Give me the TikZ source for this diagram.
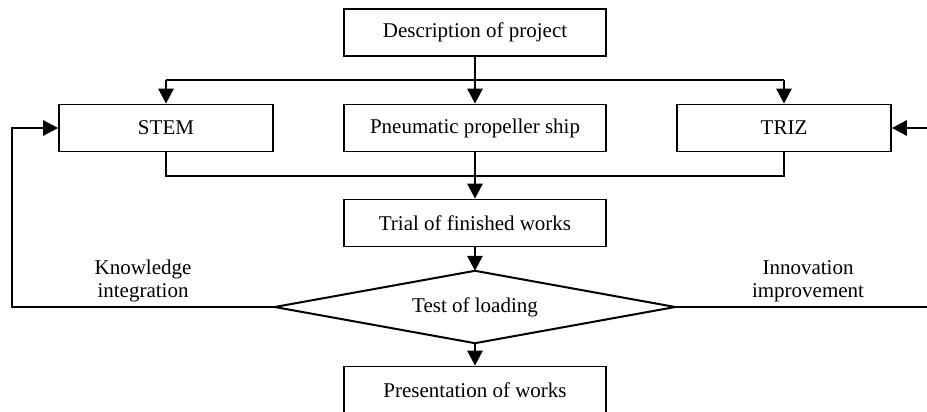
\documentclass[tikz,border=0pt]{standalone}
\usepackage{fontspec}
\setmainfont{Liberation Serif}
\usetikzlibrary{arrows.meta}
\begin{document}
\begin{tikzpicture}[x=1pt,y=-1pt,
  stepbox/.style={draw, line width=1.7pt, rectangle, inner sep=0pt,
    minimum height=47pt, font=\fontsize{21}{23}\selectfont},
  wire/.style={line width=2.7pt},
  flow/.style={wire, -{Triangle[length=15pt,width=15pt]}},
  lbl/.style={align=center, font=\fontsize{21}{23}\selectfont}]
\useasboundingbox (0,0) rectangle (927,412);
\clip (0,0) rectangle (927,412);

% process boxes
\node[stepbox, minimum width=262pt] (desc)  at (475,32.5) {Description of project};
\node[stepbox, minimum width=214pt] (stem)  at (166,128) {STEM};
\node[stepbox, minimum width=262pt] (pneu)  at (475,128) {Pneumatic propeller ship};
\node[stepbox, minimum width=214pt] (triz)  at (784,128) {TRIZ};
\node[stepbox, minimum width=262pt] (trial) at (475,223) {Trial of finished works};
\node[stepbox, minimum width=262pt] (pres)  at (475,390) {Presentation of works};

% decision diamond
\node[inner sep=0pt, minimum width=400pt, minimum height=72pt,
      font=\fontsize{21}{23}\selectfont] (test) at (475,307) {Test of loading};
\draw[line width=2pt, line join=miter]
  (test.north) -- (test.east) -- (test.south) -- (test.west) -- cycle;

% bus lines
\coordinate (top) at (475,80);
\coordinate (bot) at (475,176);
\coordinate (lx) at (12,0);
\coordinate (rx) at (934,0);

\draw[wire] (stem.north |- top) -- (triz.north |- top);
\draw[flow] (stem.north |- top) -- (stem.north);
\draw[flow] (desc.south) -- (pneu.north);
\draw[flow] (triz.north |- top) -- (triz.north);

\draw[wire] (stem.south) |- (bot) -| (triz.south);
\draw[flow] (pneu.south) -- (trial.north);
\draw[flow] (trial.south) -- (test.north);
\draw[flow] (test.south) -- (pres.north);

% feedback loops
\draw[flow] (test.west) -- (test.west -| lx) |- (stem.west);
\draw[flow] (test.east) -- (test.east -| rx) |- (triz.east);

\node[lbl] (know) at (143,281) {Knowledge\\integration};
\node[lbl] (innov) at (808,281) {Innovation\\improvement};
\end{tikzpicture}
\end{document}
